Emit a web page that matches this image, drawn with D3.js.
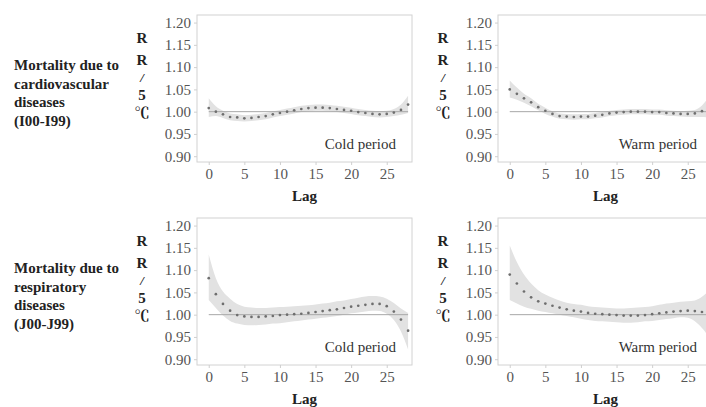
<!DOCTYPE html>
<html>
<head>
<meta charset="utf-8">
<script src="https://cdn.jsdelivr.net/npm/d3@7"></script>
<style>
    body { margin: 0; background: #fff; }
    svg { display: block; }
</style>
</head>
<body>
<svg id="lagChart" width="706" height="407"></svg>
<script>
(function () {
    'use strict';

    // lag days 0..28
    var lags = d3.range(0, 29);
    var xTicks = [0, 5, 10, 15, 20, 25];
    var yTicks = [0.90, 0.95, 1.00, 1.05, 1.10, 1.15, 1.20];
    var unitLabel = ["R", "R", "/", "5", "\u2103"];
    var periodLabels = ["Cold period", "Warm period"];
    var rowLabels = [
        ["Mortality due to", "cardiovascular", "diseases", "(I00-I99)"],
        ["Mortality due to", "respiratory", "diseases", "(J00-J99)"]
    ];

    // cardiovascular, cold period
    var cvdColdRR = [1.008, 1.000, 0.994, 0.988, 0.987, 0.985, 0.986, 0.988, 0.990, 0.994, 0.997, 1.000, 1.003, 1.006, 1.008,
        1.009, 1.009, 1.008, 1.006, 1.004, 1.002, 0.999, 0.997, 0.995, 0.994, 0.995, 0.998, 1.004, 1.016];
    var cvdColdLow = [0.988, 0.990, 0.986, 0.981, 0.979, 0.978, 0.979, 0.981, 0.983, 0.987, 0.990, 0.993, 0.996, 0.999, 1.001,
        1.002, 1.002, 1.001, 0.999, 0.997, 0.995, 0.992, 0.990, 0.988, 0.987, 0.988, 0.990, 0.993, 0.997];
    var cvdColdHigh = [1.030, 1.012, 1.002, 0.996, 0.994, 0.992, 0.993, 0.995, 0.997, 1.001, 1.004, 1.007, 1.010, 1.013, 1.015,
        1.016, 1.016, 1.015, 1.013, 1.011, 1.009, 1.006, 1.004, 1.002, 1.001, 1.002, 1.006, 1.016, 1.036];

    // cardiovascular, warm period
    var cvdWarmRR = [1.050, 1.040, 1.030, 1.021, 1.010, 1.002, 0.995, 0.990, 0.989, 0.988, 0.989, 0.989, 0.991, 0.993, 0.996,
        0.998, 0.999, 1.000, 1.000, 1.000, 0.999, 0.999, 0.997, 0.996, 0.995, 0.995, 0.996, 1.001, 1.010];
    var cvdWarmLow = [1.032, 1.027, 1.020, 1.012, 1.003, 0.995, 0.989, 0.984, 0.983, 0.982, 0.983, 0.983, 0.985, 0.987, 0.990,
        0.992, 0.993, 0.994, 0.994, 0.994, 0.993, 0.993, 0.991, 0.990, 0.989, 0.988, 0.988, 0.988, 0.986];
    var cvdWarmHigh = [1.070, 1.054, 1.040, 1.030, 1.018, 1.009, 1.001, 0.996, 0.995, 0.994, 0.995, 0.995, 0.997, 0.999, 1.002,
        1.004, 1.005, 1.006, 1.006, 1.006, 1.005, 1.005, 1.003, 1.002, 1.001, 1.002, 1.004, 1.014, 1.034];

    // respiratory, cold period
    var respColdRR = [1.082, 1.046, 1.024, 1.009, 0.999, 0.996, 0.995, 0.995, 0.996, 0.997, 0.999, 1.000, 1.001, 1.002, 1.004,
        1.006, 1.008, 1.010, 1.012, 1.015, 1.018, 1.020, 1.022, 1.024, 1.024, 1.019, 1.007, 0.989, 0.964];
    var respColdLow = [1.033, 1.015, 0.998, 0.986, 0.980, 0.977, 0.976, 0.977, 0.978, 0.980, 0.981, 0.983, 0.985, 0.987, 0.989,
        0.991, 0.993, 0.995, 0.997, 1.000, 1.003, 1.005, 1.007, 1.009, 1.008, 1.002, 0.988, 0.962, 0.922];
    var respColdHigh = [1.135, 1.082, 1.052, 1.036, 1.024, 1.018, 1.016, 1.015, 1.015, 1.016, 1.017, 1.018, 1.019, 1.020, 1.021,
        1.023, 1.025, 1.027, 1.030, 1.032, 1.035, 1.038, 1.041, 1.042, 1.041, 1.036, 1.026, 1.014, 1.004];

    // respiratory, warm period
    var respWarmRR = [1.090, 1.070, 1.052, 1.039, 1.030, 1.025, 1.020, 1.016, 1.012, 1.009, 1.007, 1.004, 1.002, 1.001, 1.000,
        0.999, 0.998, 0.998, 0.998, 0.999, 1.001, 1.003, 1.005, 1.007, 1.008, 1.009, 1.008, 1.006, 1.002];
    var respWarmLow = [1.033, 1.025, 1.018, 1.013, 1.009, 1.006, 1.003, 1.000, 0.997, 0.994, 0.991, 0.988, 0.986, 0.985, 0.984,
        0.983, 0.982, 0.982, 0.983, 0.985, 0.986, 0.988, 0.990, 0.992, 0.994, 0.993, 0.985, 0.970, 0.950];
    var respWarmHigh = [1.155, 1.118, 1.090, 1.070, 1.055, 1.045, 1.038, 1.032, 1.027, 1.024, 1.022, 1.019, 1.017, 1.016, 1.015,
        1.014, 1.014, 1.015, 1.016, 1.017, 1.019, 1.022, 1.025, 1.027, 1.029, 1.030, 1.032, 1.040, 1.054];

    var vm = {};
    vm.serif = "'Liberation Serif', 'Times New Roman', 'Noto Serif CJK SC', 'Noto Sans CJK SC', serif";
    vm.colLeft = [197, 498];
    vm.rowTop = [15, 218];
    vm.boxW = 215;
    vm.boxH = 147;

    vm.panels = [
        {row: 0, col: 0, rr: cvdColdRR, low: cvdColdLow, high: cvdColdHigh},
        {row: 0, col: 1, rr: cvdWarmRR, low: cvdWarmLow, high: cvdWarmHigh},
        {row: 1, col: 0, rr: respColdRR, low: respColdLow, high: respColdHigh},
        {row: 1, col: 1, rr: respWarmRR, low: respWarmLow, high: respWarmHigh}
    ];

    createSvg();
    setUpScales();
    drawRowLabels();
    vm.panels.forEach(drawPanel);

    function createSvg() {
        vm.svg = d3.select("svg#lagChart");
    }

    function setUpScales() {
        vm.x = d3.scaleLinear().domain([-1.65, 28.55]).range([0, vm.boxW]);
        vm.y = d3.scaleLinear().domain([0.887, 1.217]).range([vm.boxH, 0]);
    }

    function drawRowLabels() {
        rowLabels.forEach(function (lines, r) {
            var t = vm.svg.append("text")
                .attr("x", 14)
                .attr("y", vm.rowTop[r] + 55)
                .style("font", "bold 15px " + vm.serif)
                .attr("fill", "#222");
            t.selectAll("tspan")
                .data(lines)
                .enter().append("tspan")
                .attr("x", 14)
                .attr("dy", function (d, i) {
                    return i === 0 ? 0 : 18.7;
                })
                .text(function (d) {
                    return d;
                });
        });
    }

    function drawPanel(p) {
        var g = vm.svg.append("g")
            .attr("transform", "translate(" + vm.colLeft[p.col] + "," + vm.rowTop[p.row] + ")");

        var points = lags.map(function (lag, i) {
            return {lag: lag, rr: p.rr[i], low: p.low[i], high: p.high[i]};
        });

        g.append("rect")
            .attr("width", vm.boxW)
            .attr("height", vm.boxH)
            .attr("fill", "#fff")
            .attr("stroke", "#d2d2d2");

        var band = d3.area()
            .curve(d3.curveMonotoneX)
            .x(function (d) { return vm.x(d.lag); })
            .y0(function (d) { return vm.y(d.low); })
            .y1(function (d) { return vm.y(d.high); });

        g.append("path")
            .datum(points)
            .attr("d", band)
            .attr("fill", "#e2e2e2");

        g.append("line")
            .attr("x1", vm.x(0))
            .attr("x2", vm.x(28))
            .attr("y1", vm.y(1))
            .attr("y2", vm.y(1))
            .attr("stroke", "#a8a8a8")
            .attr("stroke-width", 1);

        g.selectAll(".rr")
            .data(points)
            .enter().append("circle")
            .attr("class", "rr")
            .attr("cx", function (d) { return vm.x(d.lag); })
            .attr("cy", function (d) { return vm.y(d.rr); })
            .attr("r", 1.35)
            .attr("fill", "#6e6e6e");

        var yAxis = g.append("g")
            .call(d3.axisLeft(vm.y).tickValues(yTicks).tickSize(3).tickPadding(3).tickFormat(d3.format(".2f")));
        var xAxis = g.append("g")
            .attr("transform", "translate(0," + vm.boxH + ")")
            .call(d3.axisBottom(vm.x).tickValues(xTicks).tickSize(3).tickPadding(3));

        [yAxis, xAxis].forEach(function (ax) {
            ax.select(".domain").remove();
            ax.selectAll(".tick line").attr("stroke", "#cfcfcf");
            ax.selectAll(".tick text")
                .attr("fill", "#555")
                .style("font", "15px " + vm.serif);
        });

        g.append("text")
            .attr("x", vm.boxW / 2)
            .attr("y", vm.boxH + 39)
            .attr("text-anchor", "middle")
            .style("font", "bold 15px " + vm.serif)
            .attr("fill", "#222")
            .text("Lag");

        g.append("text")
            .attr("x", vm.boxW - 16)
            .attr("y", vm.boxH - 13)
            .attr("text-anchor", "end")
            .style("font", "15px " + vm.serif)
            .attr("fill", "#333")
            .text(periodLabels[p.col]);

        // stacked unit label RR/5℃
        g.selectAll(".unit")
            .data(unitLabel)
            .enter().append("text")
            .attr("class", "unit")
            .attr("x", -55)
            .attr("y", function (d, i) {
                return 28 + [0, 21.5, 39, 57, 75][i];
            })
            .attr("text-anchor", "middle")
            .style("font", function (d, i) {
                return (i === 2 ? "italic bold 13px " : "bold 15px ") + vm.serif;
            })
            .attr("fill", "#222")
            .text(function (d) {
                return d;
            });
    }
})();
</script>
</body>
</html>
